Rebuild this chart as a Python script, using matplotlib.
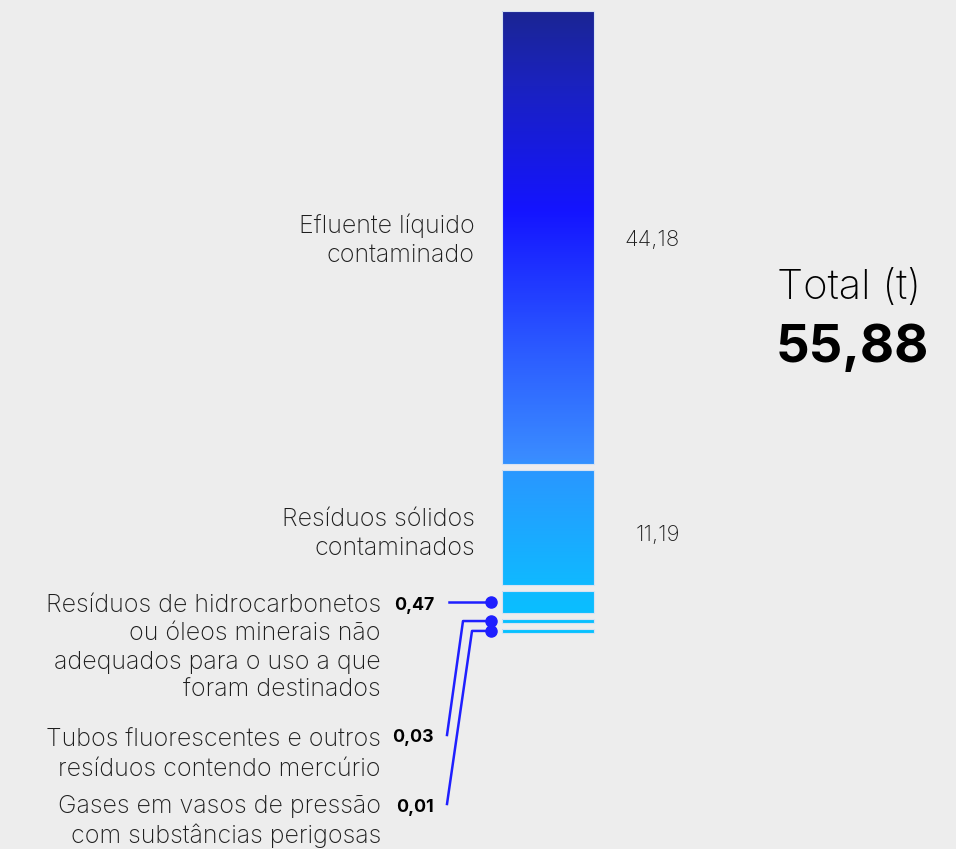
import numpy as np
import matplotlib.pyplot as plt
from matplotlib.colors import LinearSegmentedColormap

plt.rcParams['font.family'] = ['Inter', 'DejaVu Sans']

labels = [
    "Efluente líquido\ncontaminado",
    "Resíduos sólidos\ncontaminados",
    "Resíduos de hidrocarbonetos\nou óleos minerais não\nadequados para o uso a que\nforam destinados",
    "Tubos fluorescentes e outros\nresíduos contendo mercúrio",
    "Gases em vasos de pressão\ncom substâncias perigosas",
]
values = np.array([44.18, 11.19, 0.47, 0.03, 0.01])
value_labels = ["44,18", "11,19", "0,47", "0,03", "0,01"]

bg = '#ededed'
line_blue = '#1f1fff'

fig = plt.figure(figsize=(9.56, 8.49), dpi=100, facecolor=bg)
ax = fig.add_axes([0, 0, 1, 1])
ax.set_xlim(0, 956)
ax.set_ylim(849, 0)
ax.axis('off')


def display_height(v):
    # tiny categories get a minimum visible thickness
    return v if v >= 1 else 0.3 + 4 * v


px_per_t = 10.25
top = 11
gap = 6
bar_x, bar_w = 548, 92

heights = np.array([display_height(v) for v in values]) * px_per_t
bottoms = top + np.concatenate([[0], np.cumsum(heights[:-1] + gap)])
centers = bottoms + heights / 2
bar_end = bottoms[-1] + heights[-1]

cmap = LinearSegmentedColormap.from_list('bar', [
    (0.0, '#1b2594'), (0.12, '#1a22c0'), (0.32, '#1414ff'),
    (0.55, '#2c5cff'), (0.72, '#3a8cff'), (0.735, '#2a96ff'),
    (0.92, '#10b8ff'), (1.0, '#06c2ff')])
grad = np.linspace(0, 1, 256).reshape(-1, 1)

bars = ax.bar(bar_x, heights, width=bar_w, bottom=bottoms, color='none',
              edgecolor='#d6e2f2', linewidth=0.8, zorder=3)
for patch in bars:
    im = ax.imshow(grad, extent=(bar_x - bar_w / 2, bar_x + bar_w / 2, bar_end, top),
                   cmap=cmap, aspect='auto', zorder=2)
    im.set_clip_path(patch)

# big segments: label left, value right
label_off = [3, 7]
value_off = [3, 8]
for i in range(2):
    ax.text(475, centers[i] + label_off[i], labels[i], ha='right', va='center',
            fontsize=18, fontweight='light', linespacing=1.33, color='#1e1e1e')
    ax.text(680, centers[i] + value_off[i], value_labels[i], ha='right', va='center',
            fontsize=16, fontweight='light', color='#1e1e1e')

# small segments with leader lines
label_y = [604, 737, 806]
label_top = [594, 729, 795]
leader_x = [449, 447, 447]
bend_x = [None, 463, 472]
for j, i in enumerate(range(2, 5)):
    ax.text(381, label_top[j], labels[i], ha='right', va='top', fontsize=18,
            fontweight='light', linespacing=1.3, color='#1e1e1e')
    ax.text(434, label_y[j] + 1, value_labels[i], ha='right', va='center',
            fontsize=12.8, fontweight='bold', color='black')
    if bend_x[j] is None:
        xs, ys = [leader_x[j], 491], [centers[i], centers[i]]
    else:
        xs = [leader_x[j], bend_x[j], 491]
        ys = [label_y[j] - 2, centers[i], centers[i]]
    ax.plot(xs, ys, color=line_blue, lw=1.8, zorder=4)
    ax.plot(491, centers[i], 'o', color=line_blue, ms=8, zorder=5)

total = f"{values.sum():.2f}".replace('.', ',')
ax.text(849, 288, "Total (t)", ha='center', va='center', fontsize=30,
        fontweight='light', color='black')
ax.text(852, 348, total, ha='center', va='center', fontsize=38,
        fontweight='bold', color='black')

fig.savefig('out.png', dpi=100, facecolor=bg)
